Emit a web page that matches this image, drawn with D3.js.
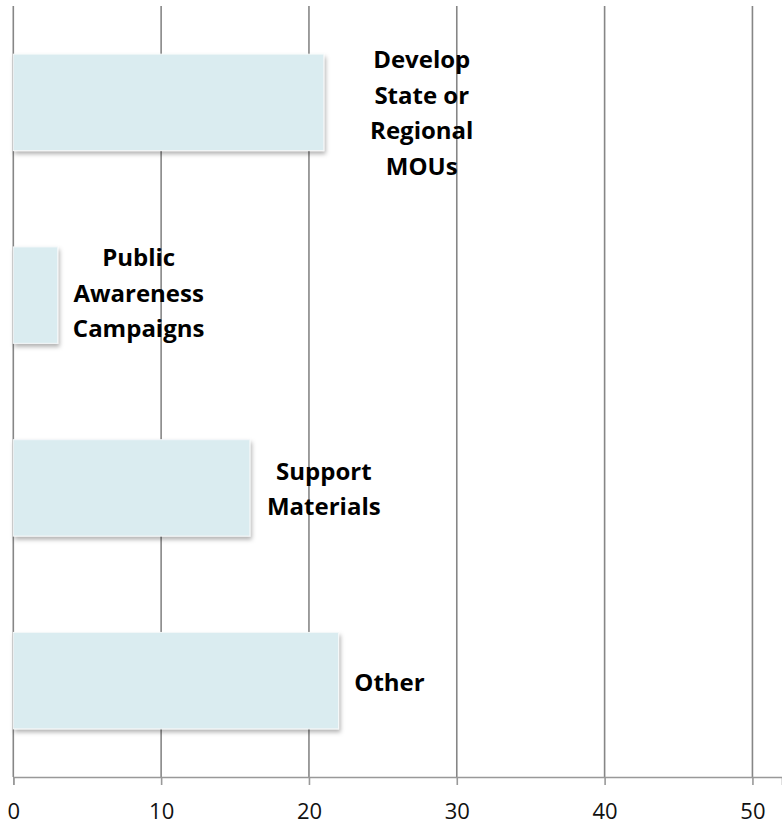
<!DOCTYPE html>
<html>
<head>
<meta charset="utf-8">
<script src="https://cdn.jsdelivr.net/npm/d3@7"></script>
<style>
  html, body { margin: 0; padding: 0; background: #fff; }
  svg { display: block; }
  .label { font-family: "Open Sans", Lato, sans-serif; font-weight: bold; font-size: 24px; fill: #000; }
  .tick text { font-family: "Open Sans", Lato, sans-serif; font-size: 22px; fill: #111; }
</style>
</head>
<body>
<svg width="782" height="827"></svg>
<script>
// chart values
const categories = [
  ['Develop', 'State or', 'Regional', 'MOUs'],
  ['Public', 'Awareness', 'Campaigns'],
  ['Support', 'Materials'],
  ['Other']
];
const values = [21, 3, 16, 22];
const tickValues = [0, 10, 20, 30, 40, 50];

// where each label sits: px right of its bar end, px below the bar middle (baseline mean)
const labelShift = [98, 81, 74, 51];
const labelLift = [19, 6.5, 9.5, 10];

const width = 782, height = 827;
const plotTop = 6, axisY = 777, plotLeft = 13.3;

const svg = d3.select('svg');

const defs = svg.append('defs');
const shadow = defs.append('filter')
  .attr('id', 'shadow')
  .attr('x', '-10%').attr('y', '-10%')
  .attr('width', '130%').attr('height', '140%');
shadow.append('feDropShadow')
  .attr('dx', 1.5).attr('dy', 3)
  .attr('stdDeviation', 2)
  .attr('flood-color', '#000')
  .attr('flood-opacity', 0.3);

const x = d3.scaleLinear().domain([0, 52]).range([plotLeft, width]);
const y = d3.scaleBand()
  .domain(d3.range(categories.length))
  .range([plotTop, axisY])
  .paddingInner(0.5)
  .paddingOuter(0.25);

// vertical gridlines
svg.append('g')
  .selectAll('line')
  .data(tickValues)
  .enter()
  .append('line')
  .attr('x1', d => x(d))
  .attr('x2', d => x(d))
  .attr('y1', plotTop)
  .attr('y2', axisY)
  .attr('stroke', '#868686')
  .attr('stroke-width', 1.6);

// bars
svg.append('g')
  .selectAll('rect')
  .data(values)
  .enter()
  .append('rect')
  .attr('x', x(0))
  .attr('y', (d, i) => y(i))
  .attr('width', d => x(d) - x(0))
  .attr('height', y.bandwidth())
  .attr('fill', '#daecf0')
  .attr('stroke', '#f4f8f9')
  .attr('stroke-width', 1)
  .attr('filter', 'url(#shadow)');

// x axis
const axis = svg.append('g')
  .attr('transform', 'translate(0,' + axisY + ')')
  .call(d3.axisBottom(x).tickValues(tickValues).tickSize(8).tickPadding(18).tickFormat(d3.format('d')));
axis.select('.domain').attr('stroke', '#999').attr('stroke-width', 1.6);
axis.selectAll('.tick line').attr('stroke', '#999').attr('stroke-width', 1.6);
axis.selectAll('.tick text').attr('fill', '#111');

// labels
const lineH = 35.5;
const labels = svg.append('g')
  .selectAll('text')
  .data(categories)
  .enter()
  .append('text')
  .attr('class', 'label')
  .attr('text-anchor', 'middle')
  .attr('transform', (d, i) => {
    const cx = x(values[i]) + labelShift[i];
    const cy = y(i) + y.bandwidth() / 2 + labelLift[i] - (d.length - 1) * lineH / 2;
    return 'translate(' + cx + ',' + cy + ')';
  });
labels.selectAll('tspan')
  .data(d => d)
  .enter()
  .append('tspan')
  .attr('x', 0)
  .attr('y', (d, j) => j * lineH)
  .text(d => d);
</script>
</body>
</html>
